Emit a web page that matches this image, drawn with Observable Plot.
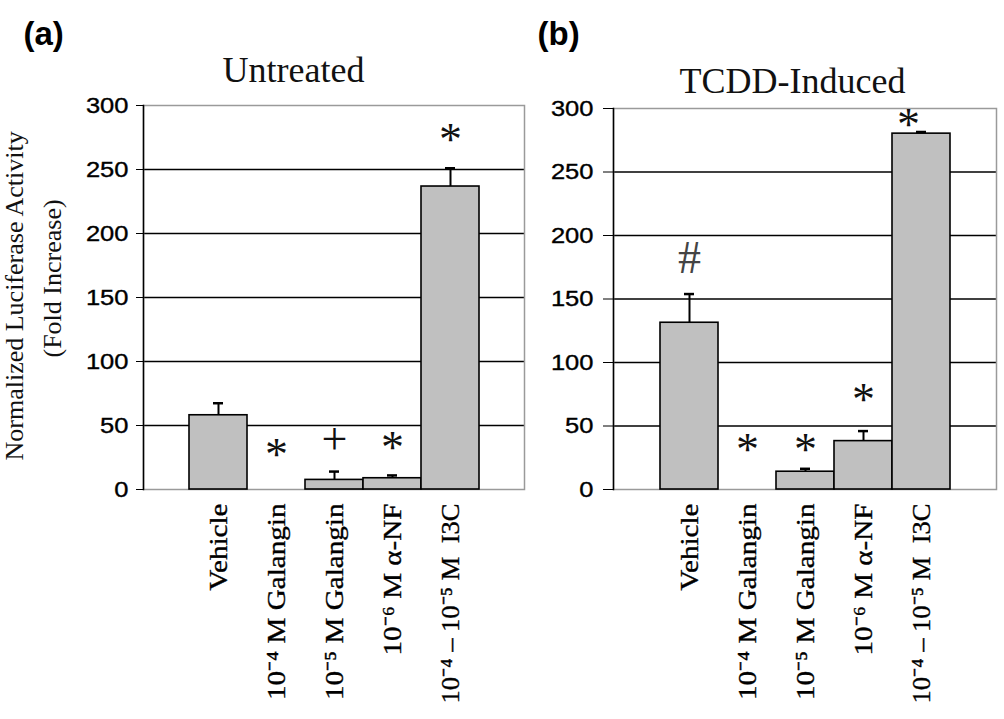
<!DOCTYPE html>
<html>
<head>
<meta charset="utf-8">
<script src="https://cdn.jsdelivr.net/npm/d3@7"></script>
<script src="https://cdn.jsdelivr.net/npm/@observablehq/plot@0.6"></script>
<style>
  html, body { margin: 0; padding: 0; background: #fff; }
  #wrap { display: flex; width: 1004px; height: 719px; overflow: hidden; }
  svg { color: #000; }
  g[aria-label="x-axis tick label"] text,
  g[aria-label="y-axis tick label"] text,
  g[aria-label="ylabel"] text { stroke: #000; stroke-width: 0.35px; }
  g[aria-label="sig"] text { stroke: #111; stroke-width: 0.6px; }
</style>
</head>
<body>
<div id="wrap"></div>
<script>
// ---- data ----
const categories = ["Vehicle", "10⁻⁴ M Galangin", "10⁻⁵ M Galangin", "10⁻⁶ M α-NF", "10⁻⁴ – 10⁻⁵ M  I3C"];
const yTicks = [0, 50, 100, 150, 200, 250, 300];
const gridValues = [50, 100, 150, 200, 250];

const untreatedMean = [58, null, 7.5, 8.8, 236.7];
const untreatedErr  = [67.4, null, 14, 11, 251];
const untreatedSig  = ["", "*", "+", "*", "*"];
const untreatedSigY = [null, 30.5, 36.7, 36, 276.5];

const inducedMean = [131.3, null, 14, 38.1, 280.2];
const inducedErr  = [153.9, null, 16.3, 46, 281.5];
const inducedSig  = ["#", "*", "*", "*", "*"];
const inducedSigY = [182, 34.7, 34.7, 74, 291];

const panelLabels = ["(a)", "(b)"];
const panelTitles = ["Untreated", "TCDD-Induced"];
const yLabelLines = ["Normalized Luciferase Activity", "(Fold Increase)"];

function rowsOf(mean, err, sig, sigY) {
  return categories.map((c, i) => ({cat: c, mean: mean[i], err: err[i], sig: sig[i], sigY: sigY[i]}));
}

function panel(cfg) {
  const rows = rowsOf(cfg.mean, cfg.err, cfg.sig, cfg.sigY);
  const last = categories[categories.length - 1];
  const sigStyle = {x: "cat", y: "sigY", text: "sig", fontSize: 46, fontFamily: "Liberation Serif", fill: "#111", ariaLabel: "sig"};
  const marks = [
    Plot.ruleY(gridValues, {stroke: "#000", strokeWidth: 1.5}),
    Plot.frame({stroke: "#9a9a9a", strokeWidth: 1.5}),
    Plot.frame({anchor: "left", stroke: "#000", strokeWidth: 1.5}),
    Plot.barY(rows.filter(d => d.mean != null), {x: "cat", y: "mean", fill: "#c0c0c0", stroke: "#000", strokeWidth: 1.6}),
    Plot.ruleX(rows.filter(d => d.err != null), {x: "cat", y1: "mean", y2: "err", stroke: "#000", strokeWidth: 2}),
    Plot.tickY(rows.filter(d => d.err != null), {x: "cat", y: "err", stroke: "#000", strokeWidth: 2.5, insetLeft: 24, insetRight: 24}),
    Plot.text(rows.filter(d => d.sig === "*" && d.cat !== last), {...sigStyle, dy: 5}),
    Plot.text(rows.filter(d => d.sig === "*" && d.cat === last), {...sigStyle, dy: 5, dx: cfg.lastSigDx}),
    Plot.text(rows.filter(d => d.sig === "+"), {...sigStyle, dy: -3}),
    Plot.text(rows.filter(d => d.sig === "#"), {...sigStyle, dy: 0, fill: "#444"}),
    Plot.axisY({ticks: yTicks, tickSize: cfg.tickSize, tickPadding: cfg.tickPadding, fontSize: 22, fontFamily: "Liberation Sans", label: null}),
    Plot.axisX({tickRotate: -90, tickSize: 0, tickPadding: 14, fontSize: 26, fontFamily: "Liberation Serif", label: null}),
    Plot.text([cfg.title], {frameAnchor: "top", dx: cfg.titleDx, dy: cfg.titleDy, lineAnchor: "bottom", fontSize: 36, fontFamily: "Liberation Serif", fill: "#111"}),
    Plot.text([cfg.label], {frameAnchor: "top-left", dx: cfg.labelDx, dy: cfg.labelDy, lineAnchor: "bottom", textAnchor: "start", fontSize: 33, fontWeight: "bold", fontFamily: "Liberation Sans", fill: "#000"})
  ];
  if (cfg.yLabel) {
    marks.push(
      Plot.text([yLabelLines[0]], {frameAnchor: "left", dx: -128.5, dy: 163, rotate: -90, textAnchor: "start", fontSize: 26, fontFamily: "Liberation Serif", fill: "#111", ariaLabel: "ylabel"}),
      Plot.text([yLabelLines[1]], {frameAnchor: "left", dx: -91, dy: 60, rotate: -90, textAnchor: "start", fontSize: 26, fontFamily: "Liberation Serif", fill: "#111", ariaLabel: "ylabel"})
    );
  }
  return Plot.plot({
    width: cfg.width,
    height: 719,
    marginLeft: cfg.marginLeft,
    marginRight: cfg.marginRight,
    marginTop: cfg.marginTop,
    marginBottom: 719 - 489,
    x: {domain: categories, paddingInner: 0, paddingOuter: 0.75, align: 0.5},
    y: {domain: [0, 300]},
    style: {background: "#fff", color: "#000", overflow: "visible"},
    marks
  });
}

const a = panel({
  width: 530, marginLeft: 143, marginRight: 6, marginTop: 105,
  mean: untreatedMean, err: untreatedErr, sig: untreatedSig, sigY: untreatedSigY,
  title: panelTitles[0], titleDx: -40.5, titleDy: -24,
  label: panelLabels[0], labelDx: -120, labelDy: -61,
  tickSize: 7, tickPadding: 8, yLabel: true, lastSigDx: 0
});
const b = panel({
  width: 474, marginLeft: 83, marginRight: 8, marginTop: 108,
  mean: inducedMean, err: inducedErr, sig: inducedSig, sigY: inducedSigY,
  title: panelTitles[1], titleDx: -12.5, titleDy: -16,
  label: panelLabels[1], labelDx: -76, labelDy: -64,
  tickSize: 10, tickPadding: 10, yLabel: false, lastSigDx: -13
});
const wrap = document.getElementById("wrap");
wrap.appendChild(a);
wrap.appendChild(b);

// stretch texts along their reading direction, as in the reference image (capped so nothing runs off the page)
function stretch(svg, sel, k, cap = Infinity) {
  svg.querySelectorAll(sel).forEach(t => {
    const len = t.getComputedTextLength();
    if (len > 0) {
      t.setAttribute("textLength", Math.min(len * k, cap).toFixed(1));
      t.setAttribute("lengthAdjust", "spacingAndGlyphs");
    }
  });
}
for (const svg of [a, b]) {
  stretch(svg, 'g[aria-label="x-axis tick label"] text', 1.12, 200);
  stretch(svg, 'g[aria-label="y-axis tick label"] text', 1.16);
  stretch(svg, 'g[aria-label="ylabel"] text', 1.11);
}
</script>
</body>
</html>
